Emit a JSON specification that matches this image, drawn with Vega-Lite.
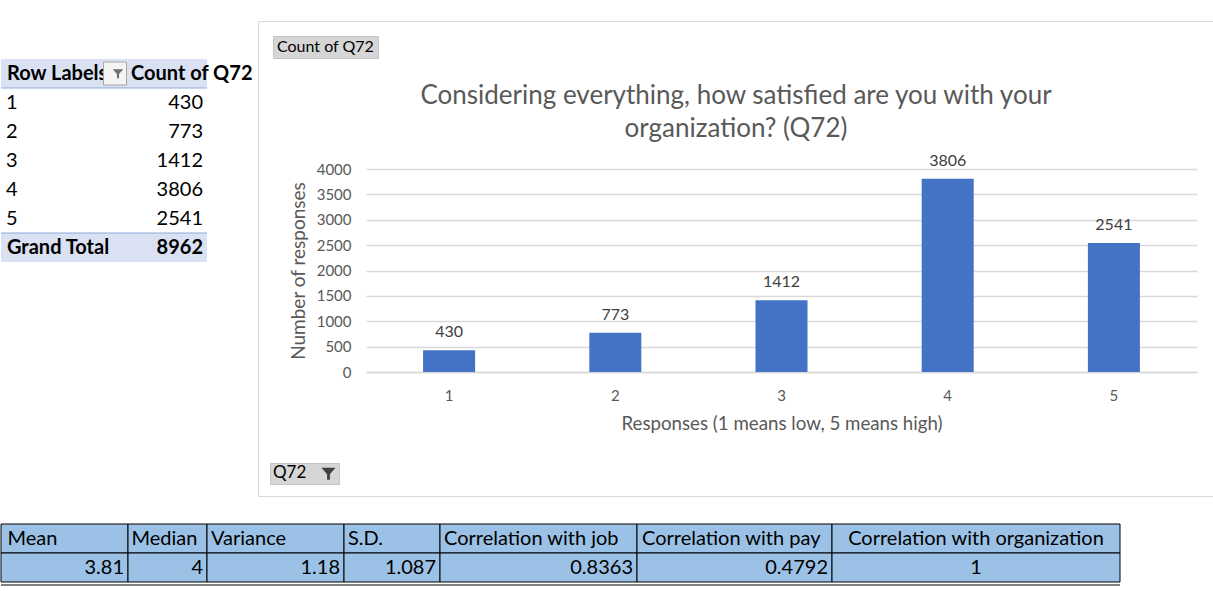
{
  "$schema": "https://vega.github.io/schema/vega-lite/v6.json",
  "padding": {"left": 0, "top": 20, "right": 0, "bottom": 0},
  "background": "white",
  "config": {"view": {"stroke": null}, "font": "Lato", "text": {"font": "Lato"}},
  "datasets": {
    "responses": [
      {"response": 1, "count": 430},
      {"response": 2, "count": 773},
      {"response": 3, "count": 1412},
      {"response": 4, "count": 3806},
      {"response": 5, "count": 2541}
    ],
    "pivot": [
      {"label": "Row Labels", "count": null},
      {"label": "1", "count": 430},
      {"label": "2", "count": 773},
      {"label": "3", "count": 1412},
      {"label": "4", "count": 3806},
      {"label": "5", "count": 2541},
      {"label": "Grand Total", "count": 8962}
    ],
    "stats": [
      {"stat": "Mean", "value": 3.81},
      {"stat": "Median", "value": 4},
      {"stat": "Variance", "value": 1.18},
      {"stat": "S.D.", "value": 1.087},
      {"stat": "Correlation with job", "value": 0.8363},
      {"stat": "Correlation with pay", "value": 0.4792},
      {"stat": "Correlation with organization", "value": 1}
    ]
  },
  "spacing": 26,
  "vconcat": [
    {
      "hconcat": [
        {
          "width": 206,
          "height": 241,
          "data": {"name": "pivot"},
          "encoding": {
            "y": {"field": "label", "type": "nominal", "sort": null,
                  "scale": {"type": "band", "domain": ["Row Labels", "1", "2", "3", "4", "5", "Grand Total"], "range": [38, 241], "paddingInner": 0, "paddingOuter": 0},
                  "axis": null}
          },
          "layer": [
            {
              "transform": [{"filter": "datum.label == 'Row Labels' || datum.label == 'Grand Total'"}],
              "mark": {"type": "rect", "color": "#D9E1F2"}
            },
            {
              "transform": [{"filter": "datum.label == '1' || datum.label == 'Grand Total'"}],
              "mark": {"type": "rule", "color": "#8EA9DB", "strokeWidth": 1},
              "encoding": {"y": {"field": "label", "type": "nominal", "bandPosition": 0}}
            },
            {
              "transform": [{"filter": "datum.label != 'Row Labels' && datum.label != 'Grand Total'"}],
              "mark": {"type": "text", "align": "left", "baseline": "middle", "dx": -98, "fontSize": 20, "color": "black"},
              "encoding": {"text": {"field": "label", "type": "nominal"}}
            },
            {
              "transform": [{"filter": "datum.label == 'Row Labels' || datum.label == 'Grand Total'"}],
              "mark": {"type": "text", "align": "left", "baseline": "middle", "dx": -97, "fontSize": 20, "fontWeight": "bold", "color": "black"},
              "encoding": {"text": {"field": "label", "type": "nominal"}}
            },
            {
              "transform": [{"filter": "datum.count != null && datum.label != 'Grand Total'"}],
              "mark": {"type": "text", "align": "right", "baseline": "middle", "dx": 99, "fontSize": 20, "color": "black"},
              "encoding": {"text": {"field": "count", "type": "quantitative", "format": "d"}}
            },
            {
              "transform": [{"filter": "datum.label == 'Grand Total'"}],
              "mark": {"type": "text", "align": "right", "baseline": "middle", "dx": 99, "fontSize": 20, "fontWeight": "bold", "color": "black"},
              "encoding": {"text": {"field": "count", "type": "quantitative", "format": "d"}}
            },
            {
              "transform": [{"filter": "datum.label == 'Row Labels'"}],
              "mark": {"type": "text", "align": "left", "baseline": "middle", "dx": 27, "fontSize": 20, "fontWeight": "bold", "color": "black", "text": "Count of Q72"}
            },
            {
              "transform": [{"filter": "datum.label == 'Row Labels'"}],
              "mark": {"type": "point", "shape": "square", "size": 529, "filled": true, "fill": "#f4f4f4", "stroke": "#a6a6a6", "strokeWidth": 1, "opacity": 1, "xOffset": 11}
            },
            {
              "transform": [{"filter": "datum.label == 'Row Labels'"}],
              "mark": {"type": "point", "shape": "M-1,-0.8L1,-0.8L0.2,0.1L0.2,0.9L-0.2,0.9L-0.2,0.1Z", "size": 110, "filled": true, "fill": "#6f6f6f", "opacity": 1, "xOffset": 14}
            }
          ]
        },
        {
          "width": 956,
          "height": 475,
          "view": {"stroke": "#d9d9d9", "fill": "white"},
          "title": {
            "text": ["Considering everything, how satisfied are you with your", "organization? (Q72)"],
            "offset": -121,
            "anchor": "middle",
            "frame": "group",
            "font": "Lato",
            "fontSize": 26,
            "fontWeight": "normal",
            "color": "#595959",
            "lineHeight": 33
          },
          "data": {"name": "responses"},
          "encoding": {
            "x": {
              "field": "response", "type": "ordinal",
              "title": "Responses (1 means low, 5 means high)",
              "scale": {"range": [108, 939], "paddingInner": 0.687, "paddingOuter": 0.3435},
              "axis": {"orient": "bottom", "offset": -124, "labelAngle": 0, "ticks": false, "tickSize": 0,
                       "domainColor": "#d9d9d9", "domainWidth": 1.5, "labelPadding": 16, "labelFontSize": 15,
                       "labelColor": "#595959", "titleFontSize": 18.7, "titleFontWeight": "normal",
                       "titleColor": "#595959", "titlePadding": 11, "grid": false}
            },
            "y": {
              "field": "count", "type": "quantitative",
              "title": "Number of responses",
              "scale": {"domain": [0, 4000], "range": [351, 148]},
              "axis": {"orient": "left", "offset": -108, "values": [0, 500, 1000, 1500, 2000, 2500, 3000, 3500, 4000],
                       "format": "d", "grid": true, "gridColor": "#d9d9d9", "gridWidth": 1.5, "domain": false,
                       "ticks": false, "tickSize": 0, "labelPadding": 15, "labelFontSize": 15, "labelColor": "#595959",
                       "titleFontSize": 19, "titleFontWeight": "normal", "titleColor": "#595959", "titlePadding": 8}
            }
          },
          "layer": [
            {
              "mark": {"type": "bar"},
              "encoding": {
                "color": {"datum": "Count of Q72", "type": "nominal", "scale": {"range": ["#4472C4"]},
                          "legend": {"orient": "top-left", "offset": 15, "title": null, "symbolSize": 0,
                                     "symbolStrokeWidth": 0, "symbolOpacity": 0, "labelOffset": -15,
                                     "labelFontSize": 16, "labelColor": "black", "labelFont": "Lato",
                                     "fillColor": "#d6d6d6", "strokeColor": "#c4c4c4", "padding": 3}}
              }
            },
            {
              "mark": {"type": "text", "baseline": "bottom", "dy": -10, "fontSize": 16},
              "encoding": {
                "text": {"field": "count", "type": "quantitative", "format": "d"},
                "color": {"datum": "Q72", "type": "nominal", "scale": {"range": ["#404040"]},
                          "legend": {"orient": "bottom-left", "offset": 12, "title": "Q72", "titleOrient": "left",
                                     "titleFontSize": 17, "titleFontWeight": "normal", "titleColor": "black",
                                     "titleFont": "Lato", "titlePadding": 14, "labelExpr": "''", "labelOffset": 0,
                                     "symbolType": "M-1,-0.8L1,-0.8L0.2,0.1L0.2,0.9L-0.2,0.9L-0.2,0.1Z",
                                     "symbolSize": 200, "symbolFillColor": "#7f7f7f", "symbolStrokeWidth": 0,
                                     "fillColor": "#d6d6d6", "strokeColor": "#c4c4c4", "padding": 3}}
              }
            }
          ],
          "resolve": {"scale": {"color": "independent"}, "legend": {"color": "independent"}}
        }
      ],
      "spacing": 51,
      "bounds": "flush"
    },
    {
      "hconcat": [
        {
          "width": 127, "height": 58,
          "data": {"name": "stats"},
          "transform": [{"filter": "datum.stat == 'Mean'"}, {"fold": ["stat", "value"], "as": ["row", "cell"]}],
          "encoding": {"y": {"field": "row", "type": "nominal", "sort": null, "scale": {"type": "band", "domain": ["stat", "value"], "paddingInner": 0, "paddingOuter": 0}, "axis": null}},
          "layer": [
            {"mark": {"type": "rect", "fill": "#9BC2E6", "stroke": "black", "strokeWidth": 1}},
            {"transform": [{"filter": "datum.row == 'stat'"}], "mark": {"type": "text", "align": "left", "baseline": "middle", "dx": -57, "fontSize": 20, "color": "black"}, "encoding": {"text": {"field": "cell", "type": "nominal"}}},
            {"transform": [{"filter": "datum.row == 'value'"}], "mark": {"type": "text", "align": "right", "baseline": "middle", "dx": 59.5, "fontSize": 20, "color": "black"}, "encoding": {"text": {"field": "cell", "type": "nominal"}}},
            {"transform": [{"filter": "datum.row == 'value'"}], "mark": {"type": "rule", "color": "black", "strokeWidth": 1, "yOffset": 3}, "encoding": {"y": {"field": "row", "type": "nominal", "bandPosition": 1}}}
          ]
        },
        {
          "width": 79, "height": 58,
          "data": {"name": "stats"},
          "transform": [{"filter": "datum.stat == 'Median'"}, {"fold": ["stat", "value"], "as": ["row", "cell"]}],
          "encoding": {"y": {"field": "row", "type": "nominal", "sort": null, "scale": {"type": "band", "domain": ["stat", "value"], "paddingInner": 0, "paddingOuter": 0}, "axis": null}},
          "layer": [
            {"mark": {"type": "rect", "fill": "#9BC2E6", "stroke": "black", "strokeWidth": 1}},
            {"transform": [{"filter": "datum.row == 'stat'"}], "mark": {"type": "text", "align": "left", "baseline": "middle", "dx": -36, "fontSize": 20, "color": "black"}, "encoding": {"text": {"field": "cell", "type": "nominal"}}},
            {"transform": [{"filter": "datum.row == 'value'"}], "mark": {"type": "text", "align": "right", "baseline": "middle", "dx": 35.5, "fontSize": 20, "color": "black"}, "encoding": {"text": {"field": "cell", "type": "nominal"}}},
            {"transform": [{"filter": "datum.row == 'value'"}], "mark": {"type": "rule", "color": "black", "strokeWidth": 1, "yOffset": 3}, "encoding": {"y": {"field": "row", "type": "nominal", "bandPosition": 1}}}
          ]
        },
        {
          "width": 137, "height": 58,
          "data": {"name": "stats"},
          "transform": [{"filter": "datum.stat == 'Variance'"}, {"fold": ["stat", "value"], "as": ["row", "cell"]}],
          "encoding": {"y": {"field": "row", "type": "nominal", "sort": null, "scale": {"type": "band", "domain": ["stat", "value"], "paddingInner": 0, "paddingOuter": 0}, "axis": null}},
          "layer": [
            {"mark": {"type": "rect", "fill": "#9BC2E6", "stroke": "black", "strokeWidth": 1}},
            {"transform": [{"filter": "datum.row == 'stat'"}], "mark": {"type": "text", "align": "left", "baseline": "middle", "dx": -64.5, "fontSize": 20, "color": "black"}, "encoding": {"text": {"field": "cell", "type": "nominal"}}},
            {"transform": [{"filter": "datum.row == 'value'"}], "mark": {"type": "text", "align": "right", "baseline": "middle", "dx": 64.5, "fontSize": 20, "color": "black"}, "encoding": {"text": {"field": "cell", "type": "nominal"}}},
            {"transform": [{"filter": "datum.row == 'value'"}], "mark": {"type": "rule", "color": "black", "strokeWidth": 1, "yOffset": 3}, "encoding": {"y": {"field": "row", "type": "nominal", "bandPosition": 1}}}
          ]
        },
        {
          "width": 96, "height": 58,
          "data": {"name": "stats"},
          "transform": [{"filter": "datum.stat == 'S.D.'"}, {"fold": ["stat", "value"], "as": ["row", "cell"]}],
          "encoding": {"y": {"field": "row", "type": "nominal", "sort": null, "scale": {"type": "band", "domain": ["stat", "value"], "paddingInner": 0, "paddingOuter": 0}, "axis": null}},
          "layer": [
            {"mark": {"type": "rect", "fill": "#9BC2E6", "stroke": "black", "strokeWidth": 1}},
            {"transform": [{"filter": "datum.row == 'stat'"}], "mark": {"type": "text", "align": "left", "baseline": "middle", "dx": -44, "fontSize": 20, "color": "black"}, "encoding": {"text": {"field": "cell", "type": "nominal"}}},
            {"transform": [{"filter": "datum.row == 'value'"}], "mark": {"type": "text", "align": "right", "baseline": "middle", "dx": 44, "fontSize": 20, "color": "black"}, "encoding": {"text": {"field": "cell", "type": "nominal"}}},
            {"transform": [{"filter": "datum.row == 'value'"}], "mark": {"type": "rule", "color": "black", "strokeWidth": 1, "yOffset": 3}, "encoding": {"y": {"field": "row", "type": "nominal", "bandPosition": 1}}}
          ]
        },
        {
          "width": 197, "height": 58,
          "data": {"name": "stats"},
          "transform": [{"filter": "datum.stat == 'Correlation with job'"}, {"fold": ["stat", "value"], "as": ["row", "cell"]}],
          "encoding": {"y": {"field": "row", "type": "nominal", "sort": null, "scale": {"type": "band", "domain": ["stat", "value"], "paddingInner": 0, "paddingOuter": 0}, "axis": null}},
          "layer": [
            {"mark": {"type": "rect", "fill": "#9BC2E6", "stroke": "black", "strokeWidth": 1}},
            {"transform": [{"filter": "datum.row == 'stat'"}], "mark": {"type": "text", "align": "left", "baseline": "middle", "dx": -94.5, "fontSize": 20, "color": "black"}, "encoding": {"text": {"field": "cell", "type": "nominal"}}},
            {"transform": [{"filter": "datum.row == 'value'"}], "mark": {"type": "text", "align": "right", "baseline": "middle", "dx": 94.5, "fontSize": 20, "color": "black"}, "encoding": {"text": {"field": "cell", "type": "nominal"}}},
            {"transform": [{"filter": "datum.row == 'value'"}], "mark": {"type": "rule", "color": "black", "strokeWidth": 1, "yOffset": 3}, "encoding": {"y": {"field": "row", "type": "nominal", "bandPosition": 1}}}
          ]
        },
        {
          "width": 195, "height": 58,
          "data": {"name": "stats"},
          "transform": [{"filter": "datum.stat == 'Correlation with pay'"}, {"fold": ["stat", "value"], "as": ["row", "cell"]}],
          "encoding": {"y": {"field": "row", "type": "nominal", "sort": null, "scale": {"type": "band", "domain": ["stat", "value"], "paddingInner": 0, "paddingOuter": 0}, "axis": null}},
          "layer": [
            {"mark": {"type": "rect", "fill": "#9BC2E6", "stroke": "black", "strokeWidth": 1}},
            {"transform": [{"filter": "datum.row == 'stat'"}], "mark": {"type": "text", "align": "left", "baseline": "middle", "dx": -92.5, "fontSize": 20, "color": "black"}, "encoding": {"text": {"field": "cell", "type": "nominal"}}},
            {"transform": [{"filter": "datum.row == 'value'"}], "mark": {"type": "text", "align": "right", "baseline": "middle", "dx": 93.5, "fontSize": 20, "color": "black"}, "encoding": {"text": {"field": "cell", "type": "nominal"}}},
            {"transform": [{"filter": "datum.row == 'value'"}], "mark": {"type": "rule", "color": "black", "strokeWidth": 1, "yOffset": 3}, "encoding": {"y": {"field": "row", "type": "nominal", "bandPosition": 1}}}
          ]
        },
        {
          "width": 288, "height": 58,
          "data": {"name": "stats"},
          "transform": [{"filter": "datum.stat == 'Correlation with organization'"}, {"fold": ["stat", "value"], "as": ["row", "cell"]}],
          "encoding": {"y": {"field": "row", "type": "nominal", "sort": null, "scale": {"type": "band", "domain": ["stat", "value"], "paddingInner": 0, "paddingOuter": 0}, "axis": null}},
          "layer": [
            {"mark": {"type": "rect", "fill": "#9BC2E6", "stroke": "black", "strokeWidth": 1}},
            {"mark": {"type": "text", "align": "center", "baseline": "middle", "fontSize": 20, "color": "black"}, "encoding": {"text": {"field": "cell", "type": "nominal"}}},
            {"transform": [{"filter": "datum.row == 'value'"}], "mark": {"type": "rule", "color": "black", "strokeWidth": 1, "yOffset": 3}, "encoding": {"y": {"field": "row", "type": "nominal", "bandPosition": 1}}}
          ]
        }
      ],
      "spacing": 0,
      "bounds": "flush"
    }
  ]
}
